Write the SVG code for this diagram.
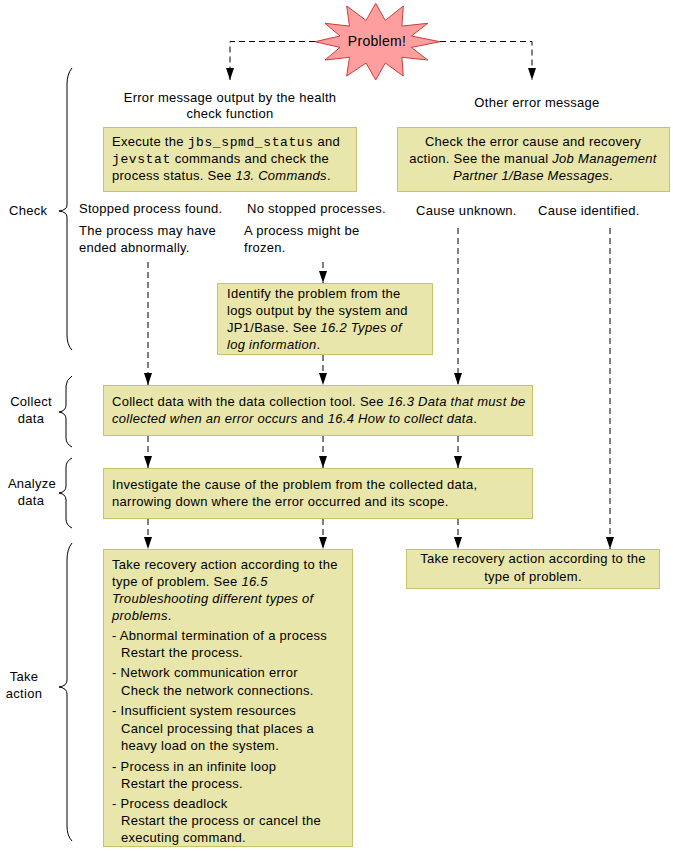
<svg xmlns="http://www.w3.org/2000/svg" width="673" height="851" viewBox="0 0 673 851">
<defs>
<style>
text{font-family:"Liberation Sans",Arial,sans-serif;font-size:13px;letter-spacing:0.28px;fill:#000}
.m{font-family:"Liberation Mono","Courier New",monospace;font-size:13px;letter-spacing:0.6px}
.i{font-style:italic}
.c{text-anchor:middle}
.box{fill:#e8e6aa;stroke:#c6c46a;stroke-width:1}
.dash{fill:none;stroke:#000;stroke-width:1;stroke-dasharray:6,4}
.br{fill:none;stroke:#000;stroke-width:1}
</style>
<marker id="ah" markerWidth="12" markerHeight="10" refX="12" refY="5" orient="auto" markerUnits="userSpaceOnUse" viewBox="0 0 12 10">
<path d="M0,1 L12,5 L0,9 Z" fill="#000"/>
</marker>
</defs>
<rect width="673" height="851" fill="#fff"/>

<g id="problem">
<polygon points="375.7,3.3 385.3,20.4 403.3,6 401.9,26.1 427.7,23.3 411.4,36 440,41.7 411.4,47.4 427.7,60 401.9,57.3 403.3,76 385.3,63 375.7,80 366.1,63 346.7,76 349.5,57.3 325,60 340,47.4 315,41.7 340,36 325,23.3 349.5,26.1 346.7,6 366.1,20.4" fill="#ff9e9e" stroke="#cc3c3c" stroke-width="1"/>
<text class="c" x="377" y="46" style="font-size:14px">Problem!</text>
</g>

<g id="connectors">
<path class="dash" d="M315,41.5 H230 V80" marker-end="url(#ah)"/>
<path class="dash" d="M440,41.5 H532 V80" marker-end="url(#ah)"/>
<path class="dash" d="M323,262 V283" marker-end="url(#ah)"/>
<path class="dash" d="M148,262 V385" marker-end="url(#ah)"/>
<path class="dash" d="M323,355 V385" marker-end="url(#ah)"/>
<path class="dash" d="M458,228 V385" marker-end="url(#ah)"/>
<path class="dash" d="M148,436 V468" marker-end="url(#ah)"/>
<path class="dash" d="M323,436 V468" marker-end="url(#ah)"/>
<path class="dash" d="M458,436 V468" marker-end="url(#ah)"/>
<path class="dash" d="M148,519 V549" marker-end="url(#ah)"/>
<path class="dash" d="M323,519 V549" marker-end="url(#ah)"/>
<path class="dash" d="M458,519 V549" marker-end="url(#ah)"/>
<path class="dash" d="M610,228 V549" marker-end="url(#ah)"/>
</g>

<g id="brackets">
<path class="br" d="M72,68 Q67,74 67,84 V205 Q67,210 59,211 Q67,212 67,217 V335 Q67,345 72,350"/>
<path class="br" d="M72,376 Q66,380 66,386 V405 Q66,411 59,412 Q66,413 66,419 V438 Q66,444 72,447"/>
<path class="br" d="M72,458 Q66,461 66,467 V486 Q66,492 59,493 Q66,494 66,500 V519 Q66,525 72,528"/>
<path class="br" d="M72,543 Q67,549 67,560 V680 Q67,686 59,687 Q67,688 67,694 V826 Q67,836 72,841"/>
</g>

<g id="stage-labels">
<text x="9" y="215">Check</text>
<text class="c" x="31" y="406">Collect</text>
<text class="c" x="31" y="423">data</text>
<text class="c" x="32" y="488">Analyze</text>
<text class="c" x="31" y="505">data</text>
<text class="c" x="24" y="681">Take</text>
<text class="c" x="24" y="698">action</text>
</g>

<g id="branch-labels">
<text class="c" x="230" y="102">Error message output by the health</text>
<text class="c" x="230" y="118">check function</text>
<text class="c" x="537" y="107">Other error message</text>
<text x="79" y="213">Stopped process found.</text>
<text x="79" y="235">The process may have</text>
<text x="79" y="252">ended abnormally.</text>
<text x="247" y="213">No stopped processes.</text>
<text x="244" y="235">A process might be</text>
<text x="244" y="252">frozen.</text>
<text x="416" y="215">Cause unknown.</text>
<text x="538" y="215">Cause identified.</text>
</g>

<g id="check-status">
<rect class="box" x="103.5" y="127.5" width="253" height="64"/>
<text x="112" y="146">Execute the <tspan class="m">jbs_spmd_status</tspan> and</text>
<text x="112" y="163"><tspan class="m">jevstat</tspan> commands and check the</text>
<text x="112" y="180">process status. See <tspan class="i">13. Commands</tspan>.</text>
</g>

<g id="check-cause">
<rect class="box" x="397.5" y="127.5" width="272" height="64"/>
<text class="c" x="533" y="146">Check the error cause and recovery</text>
<text class="c" x="533" y="163">action. See the manual <tspan class="i">Job Management</tspan></text>
<text class="c" x="533" y="180"><tspan class="i">Partner 1/Base Messages</tspan>.</text>
</g>

<g id="identify">
<rect class="box" x="217.5" y="283.5" width="215" height="71"/>
<text x="227" y="298">Identify the problem from the</text>
<text x="227" y="315">logs output by the system and</text>
<text x="227" y="332">JP1/Base. See <tspan class="i">16.2 Types of</tspan></text>
<text x="227" y="349"><tspan class="i">log information</tspan>.</text>
</g>

<g id="collect">
<rect class="box" x="103.5" y="385.5" width="429" height="50"/>
<text x="112" y="406">Collect data with the data collection tool. See <tspan class="i">16.3 Data that must be</tspan></text>
<text x="112" y="423"><tspan class="i">collected when an error occurs</tspan> and <tspan class="i">16.4 How to collect data</tspan>.</text>
</g>

<g id="analyze">
<rect class="box" x="103.5" y="468.5" width="429" height="50"/>
<text x="112" y="489">Investigate the cause of the problem from the collected data,</text>
<text x="112" y="506">narrowing down where the error occurred and its scope.</text>
</g>

<g id="action-detail">
<rect class="box" x="103.5" y="549.5" width="249" height="297"/>
<text x="112" y="569">Take recovery action according to the</text>
<text x="112" y="586">type of problem. See <tspan class="i">16.5</tspan></text>
<text x="112" y="603" class="i">Troubleshooting different types of</text>
<text x="112" y="620"><tspan class="i">problems</tspan>.</text>
<text x="112" y="640">- Abnormal termination of a process</text>
<text x="121" y="657">Restart the process.</text>
<text x="112" y="677">- Network communication error</text>
<text x="121" y="695">Check the network connections.</text>
<text x="112" y="715">- Insufficient system resources</text>
<text x="121" y="733">Cancel processing that places a</text>
<text x="121" y="750">heavy load on the system.</text>
<text x="112" y="771">- Process in an infinite loop</text>
<text x="121" y="788">Restart the process.</text>
<text x="112" y="808">- Process deadlock</text>
<text x="121" y="825">Restart the process or cancel the</text>
<text x="121" y="842">executing command.</text>
</g>

<g id="action-simple">
<rect class="box" x="406.5" y="549.5" width="253" height="39"/>
<text class="c" x="533" y="563">Take recovery action according to the</text>
<text class="c" x="533" y="581">type of problem.</text>
</g>
</svg>
